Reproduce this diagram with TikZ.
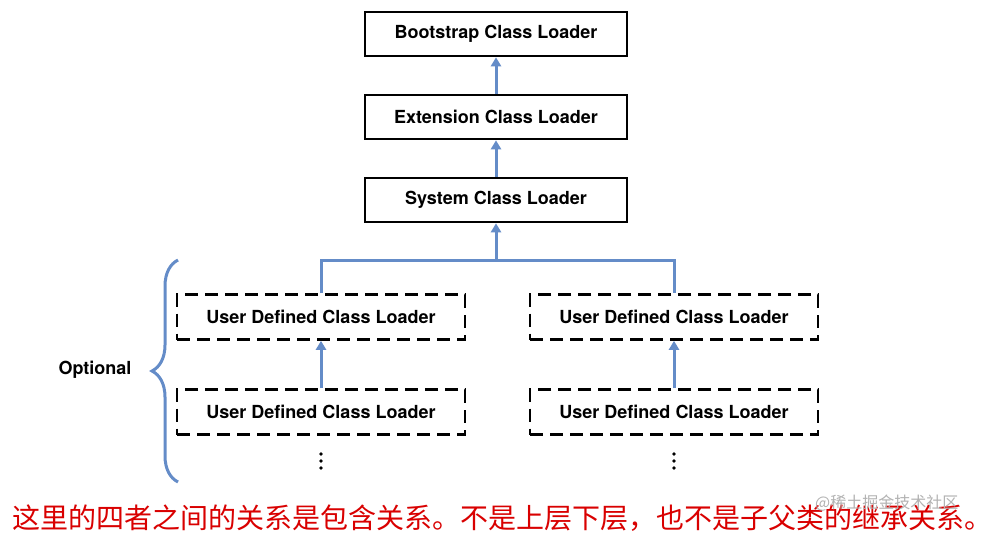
\documentclass[tikz,border=0pt]{standalone}
\usepackage{fontspec}
\setmainfont{TeX Gyre Heros}
\newfontfamily\cjk{Noto Sans CJK SC}
\usetikzlibrary{arrows.meta,decorations.pathreplacing}
\definecolor{lb}{RGB}{100,140,200}
\begin{document}
\begin{tikzpicture}[x=1pt,y=-1pt,
  box/.style={draw,line width=2.6pt,minimum width=262pt,minimum height=44pt,font=\bfseries\fontsize{18}{20}\selectfont},
  ubox/.style={draw,line width=2.6pt,dash pattern=on 13pt off 7pt,minimum width=288pt,minimum height=45pt,font=\bfseries\fontsize{18}{20}\selectfont},
  conn/.style={draw=lb,line width=3pt},
  arr/.style={conn,-{Triangle[length=9pt,width=10pt]}},
  dot/.style={fill,circle,inner sep=1.3pt}]
\useasboundingbox (0,0) rectangle (996,533);
\fill[white] (0,0) rectangle (996,533);
\node[box] (boot) at (496,34) {Bootstrap Class Loader};
\node[box] (ext) at (496,117) {Extension Class Loader};
\node[box] (sys) at (496,200) {System Class Loader};
\node[ubox] (u1) at (321,317) {User Defined Class Loader};
\node[ubox] (u2) at (321,412) {User Defined Class Loader};
\node[ubox] (u3) at (674,317) {User Defined Class Loader};
\node[ubox] (u4) at (674,412) {User Defined Class Loader};
\foreach \x/\n in {321/a,674/b}{
  \node[dot] (d\n1) at (\x,454) {};
  \node[dot] (d\n2) at (\x,461) {};
  \node[dot] (d\n3) at (\x,468) {};
}
\draw[arr] (ext) -- (boot);
\draw[arr] (sys) -- (ext);
\coordinate (j) at (496,260);
\draw[conn] (u1.north) |- (j) -| (u3.north);
\draw[arr] (j) -- (sys);
\draw[arr] (u2) -- (u1);
\draw[arr] (u4) -- (u3);
\coordinate (bt) at (178,260);
\coordinate (bb) at (178,482);
\draw[conn,decorate,decoration={brace,amplitude=26pt,aspect=0.5}] (bb) -- (bt);
\node[font=\bfseries\fontsize{18}{20}\selectfont] (opt) at (95,370) {Optional};
\node[anchor=west,text=red!85!black,font=\cjk\fontsize{28}{30}\selectfont,inner sep=0pt] (note) at (12,518) {这里的四者之间的关系是包含关系。不是上层下层，也不是子父类的继承关系。};
\node[anchor=west,text=gray!60,font=\cjk\fontsize{16}{17}\selectfont,inner sep=0pt] (wm) at (815,503) {@稀土掘金技术社区};
\end{tikzpicture}
\end{document}
